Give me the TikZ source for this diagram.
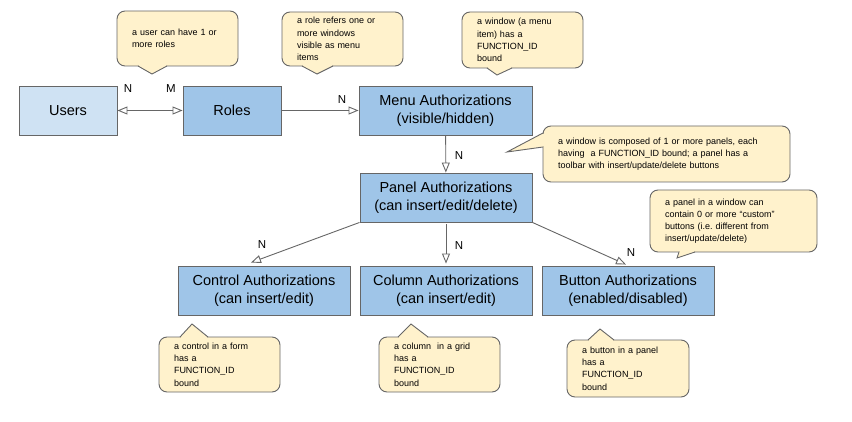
\documentclass[tikz,border=0pt]{standalone}
\usepackage{fontspec}
\setmainfont{Liberation Sans}
\usetikzlibrary{arrows.meta}
\definecolor{boxblue}{HTML}{9FC5E8}
\definecolor{userblue}{HTML}{CFE2F3}
\definecolor{notefill}{HTML}{FFF2CC}
\definecolor{linegray}{HTML}{666666}
\begin{document}
\begin{tikzpicture}[x=1pt, y=-1pt,
  box/.style={draw=linegray, fill=boxblue, line width=0.9pt, minimum height=49pt,
    align=center, inner sep=0pt, font=\fontsize{14.5}{17.5}\selectfont},
  note/.style={draw=linegray, fill=notefill, line width=0.9pt, rounded corners=8pt,
    align=left, inner xsep=15pt, inner ysep=0pt, font=\fontsize{9}{12.2}\selectfont},
  tag/.style={inner sep=0pt, font=\fontsize{11.5}{13}\selectfont},
  link/.style={draw=linegray, line width=0.9pt},
  tip/.style={-{Triangle[open, length=10pt, width=8pt]}},
  tips/.style={{Triangle[open, length=10pt, width=8pt]}-{Triangle[open, length=10pt, width=8pt]}},
  rub/.style={draw=notefill, line width=1.3pt}]
  \useasboundingbox (0,0) rectangle (852,422);

  % Boxes
  \node[box, fill=userblue, minimum width=98pt] (users) at (68,110.5) {Users};
  \node[box, minimum width=98pt] (roles) at (232,110.5) {Roles};
  \node[box, minimum width=173pt] (menu) at (445.5,110.5) {Menu Authorizations\\(visible/hidden)};
  \node[box, minimum width=172pt] (panel) at (446,197.5) {Panel Authorizations\\(can insert/edit/delete)};
  \node[box, minimum width=172pt] (control) at (264,290.5) {Control Authorizations\\(can insert/edit)};
  \node[box, minimum width=172pt] (column) at (446,290.5) {Column Authorizations\\(can insert/edit)};
  \node[box, minimum width=172pt] (button) at (628,290.5) {Button Authorizations\\(enabled/disabled)};

  % Links
  \draw[link, tips] (users) -- (roles);
  \draw[link, tip] (roles) -- (menu);
  \draw[link, tip] (menu) -- (panel);
  \draw[link, tip] (panel.south west) -- ([xshift=-13pt, yshift=3pt]control.north);
  \draw[link, tip] ([yshift=-2pt]panel.south) -- ([yshift=2pt]column.north);
  \draw[link, tip] (panel.south east) -- ([xshift=-2pt, yshift=1pt]button.north);

  % Labels
  \node[tag] (nuser) at (128,89) {N};
  \node[tag] (mrole) at (171,89) {M};
  \node[tag] (nmenu) at (342,100) {N};
  \node[tag] (npanel) at (459,156) {N};
  \node[tag] (ncontrol) at (262,245) {N};
  \node[tag] (ncolumn) at (459,246) {N};
  \node[tag] (nbutton) at (631,253) {N};

  % Note 1
  \node[note, text width=91pt, minimum height=55pt] (noteuser) at (177.5,38.5)
    {a user can have 1 or\\more roles};
  \draw[rub] (139,66) -- (166,66);
  \draw[link, fill=notefill] (138,66) -- (152,74) -- (167,66);

  % Note 2
  \node[note, text width=91pt, minimum height=54pt] (noterole) at (342.5,39)
    {a role refers one or\\more windows\\visible as menu\\items};
  \draw[rub] (303,66) -- (332,66);
  \draw[link, fill=notefill] (302,66) -- (317,74) -- (333,66);

  % Note 3
  \node[note, text width=91pt, minimum height=56pt] (notemenu) at (522.5,40)
    {a window (a menu\\item) has a\\FUNCTION\_ID\\bound};
  \draw[rub] (488,68) -- (511,68);
  \draw[link, fill=notefill] (487,68) -- (497,75) -- (512,68);

  % Note 4
  \node[note, text width=217pt, minimum height=56pt] (notepanel) at (666.5,154)
    {a window is composed of 1 or more panels, each\\having\ \ a FUNCTION\_ID bound; a panel has a\\toolbar with insert/update/delete buttons};
  \draw[rub] (543,134) -- (543,146);
  \draw[link, fill=notefill] (543,133) -- (507,152) -- (543,147);

  % Note 5
  \node[note, text width=137pt, minimum height=62pt] (notecustom) at (733.5,221)
    {a panel in a window can\\contain 0 or more “custom”\\buttons (i.e.\ different from\\insert/update/delete)};
  \draw[rub] (680,252) -- (694,252);
  \draw[link, fill=notefill] (679,252) -- (677,258) -- (695,252);

  % Note 6
  \node[note, text width=91pt, minimum height=55pt] (notecontrol) at (219.5,364.5)
    {a control in a form\\has a\\FUNCTION\_ID\\bound};
  \draw[rub] (181,337) -- (207,337);
  \draw[link, fill=notefill] (180,337) -- (192,324) -- (208,337);

  % Note 7
  \node[note, text width=91pt, minimum height=55pt] (notecolumn) at (439.5,364.5)
    {a column\ \ in a grid\\has a\\FUNCTION\_ID\\bound};
  \draw[rub] (399,337) -- (427,337);
  \draw[link, fill=notefill] (398,337) -- (411,324) -- (428,337);

  % Note 8
  \node[note, text width=92pt, minimum height=57pt] (notebutton) at (628,368.5)
    {a button in a panel\\has a\\FUNCTION\_ID\\bound};
  \draw[rub] (589,340) -- (613,340);
  \draw[link, fill=notefill] (588,340) -- (600,329) -- (614,340);
\end{tikzpicture}
\end{document}
